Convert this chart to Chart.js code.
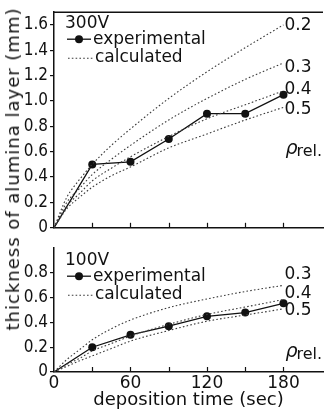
<!DOCTYPE html>
<html><head><meta charset="utf-8">
<script src="https://cdn.jsdelivr.net/npm/chart.js@4.4.1/dist/chart.umd.min.js"></script>
<style>
html,body{margin:0;padding:0;background:#fff;}
body{width:327px;height:412px;position:relative;overflow:hidden;}
#c1{position:absolute;left:0;top:0;}
#c2{position:absolute;left:0;top:236px;}
#ytitle{position:absolute;left:13px;top:169px;transform:translate(-50%,-50%) rotate(-90deg);font:18px "DejaVu Sans";letter-spacing:1px;white-space:nowrap;color:#111;line-height:18px;}
</style></head><body>
<canvas id="c1" width="327" height="240"></canvas>
<canvas id="c2" width="327" height="176"></canvas>
<div id="ytitle">thickness of alumina layer (mm)</div>
<script>
// ---------- data ----------
const expTime = [0, 30, 60, 90, 120, 150, 180];
const exp300 = [0, 0.50, 0.52, 0.70, 0.90, 0.90, 1.05];
const exp100 = [0, 0.20, 0.30, 0.37, 0.45, 0.48, 0.555];

const calcTime = [0, 10, 20, 30, 45, 60, 90, 120, 150, 180];
const calc300_02 = [0, 0.24, 0.38, 0.50, 0.65, 0.78, 1.02, 1.23, 1.42, 1.60];
const calc300_03 = [0, 0.20, 0.31, 0.42, 0.54, 0.65, 0.85, 1.02, 1.17, 1.30];
const calc300_04 = [0, 0.17, 0.27, 0.37, 0.47, 0.56, 0.72, 0.86, 0.97, 1.08];
const calc300_05 = [0, 0.15, 0.24, 0.32, 0.41, 0.48, 0.63, 0.74, 0.85, 0.95];
const calc100_03 = [0, 0.10, 0.18, 0.26, 0.35, 0.42, 0.52, 0.59, 0.65, 0.70];
const calc100_04 = [0, 0.06, 0.11, 0.17, 0.23, 0.29, 0.385, 0.465, 0.525, 0.585];
const calc100_05 = [0, 0.045, 0.09, 0.13, 0.19, 0.25, 0.335, 0.41, 0.46, 0.51];

const rhoTop = ['0.2', '0.3', '0.4', '0.5'];
const rhoBottom = ['0.3', '0.4', '0.5'];
const panelTop = '300V';
const panelBottom = '100V';
const legendExp = 'experimental';
const legendCalc = 'calculated';
const rhoLabel = 'ρ';
const rhoSub = 'rel.';

const yTopTicks = [0, 0.2, 0.4, 0.6, 0.8, 1.0, 1.2, 1.4, 1.6];
const yBottomTicks = [0, 0.2, 0.4, 0.6, 0.8];
const xLabelTicks = [0, 60, 120, 180];
const xMarkTicks = [30, 60, 90, 120, 150, 180];
const xTitle = 'deposition time (sec)';

// ---------- helpers ----------
const FONT = '"DejaVu Sans"';
const TICKFONT = '"DejaVu Sans Condensed", "Liberation Sans Narrow", "DejaVu Sans"';
const INK = '#111';
const DOT = '#3a3a3a';
const pts = (xs, ys) => xs.map((x, i) => ({x, y: ys[i]}));
const fmtY = v => v === 0 ? '0' : v.toFixed(1);

function calcSet(vals) {
  return {data: pts(calcTime, vals), borderColor: DOT, borderWidth: 1.1, borderDash: [1.6, 2.2],
    pointRadius: 0, cubicInterpolationMode: 'monotone', fill: false};
}
function expSet(vals) {
  return {data: pts(expTime, vals), borderColor: INK, borderWidth: 1.3,
    pointRadius: c => c.dataIndex === 0 ? 0 : 4, pointBackgroundColor: INK, pointBorderWidth: 0, fill: false};
}

const decor = {
  id: 'decor',
  afterDraw(chart, args, o) {
    const {ctx, chartArea: ca, scales: {x, y}} = chart;
    ctx.save();
    ctx.strokeStyle = INK; ctx.lineWidth = 1.2; ctx.setLineDash([]);
    xMarkTicks.forEach(v => {
      const px = Math.round(x.getPixelForValue(v)) + 0.5;
      ctx.beginPath(); ctx.moveTo(px, ca.bottom); ctx.lineTo(px, ca.bottom - 5); ctx.stroke();
    });
    if (o.frameTop) {
      ctx.lineWidth = 1.5;
      ctx.beginPath(); ctx.moveTo(ca.left, ca.top); ctx.lineTo(ca.right, ca.top); ctx.stroke();
    }
    ctx.fillStyle = INK; ctx.textBaseline = 'middle'; ctx.textAlign = 'left';
    ctx.font = '17px ' + FONT;
    const lx = ca.left, ly = ca.top;
    ctx.fillText(o.panel, lx + 11, ly + o.l0);
    ctx.lineWidth = 1.3;
    ctx.beginPath(); ctx.moveTo(lx + 13, ly + o.l1); ctx.lineTo(lx + 37, ly + o.l1); ctx.stroke();
    ctx.beginPath(); ctx.arc(lx + 25, ly + o.l1, 4, 0, Math.PI * 2); ctx.fill();
    ctx.fillText(legendExp, lx + 39, ly + o.l1);
    ctx.strokeStyle = DOT; ctx.lineWidth = 1.1; ctx.setLineDash([1.6, 2.2]);
    ctx.beginPath(); ctx.moveTo(lx + 14, ly + o.l2 + 1); ctx.lineTo(lx + 40, ly + o.l2 + 1); ctx.stroke();
    ctx.setLineDash([]);
    ctx.fillText(legendCalc, lx + 41, ly + o.l2);
    const xr = x.getPixelForValue(180) + 1;
    o.labels.forEach((t, i) => {
      const ds = chart.data.datasets[i];
      const last = ds.data[ds.data.length - 1].y;
      ctx.fillText(t, xr, y.getPixelForValue(last) + o.nudge[i]);
    });
    ctx.font = 'italic 19px ' + FONT;
    ctx.fillText(rhoLabel, xr + 1, ca.top + o.rhoY);
    ctx.font = '16px ' + FONT;
    ctx.fillText(rhoSub, xr + 12, ca.top + o.rhoY + 3);
    ctx.restore();
  }
};

function yScale(max, ticks) {
  return {type: 'linear', min: 0, max: max,
    afterFit: s => { s.width = 54; },
    afterBuildTicks: s => { s.ticks = ticks.map(v => ({value: v})); },
    ticks: {callback: v => fmtY(v), font: {family: TICKFONT, size: 17}, color: INK, padding: 2},
    grid: {drawOnChartArea: false, drawTicks: true, tickLength: 4, color: INK, lineWidth: 1.2},
    border: {display: true, color: INK, width: 1.5}};
}

new Chart(document.getElementById('c1'), {
  type: 'line',
  data: {datasets: [calcSet(calc300_02), calcSet(calc300_03), calcSet(calc300_04), calcSet(calc300_05), expSet(exp300)]},
  options: {
    responsive: false, animation: false, events: [],
    layout: {padding: {top: 7, left: 0, right: 0, bottom: 0}},
    plugins: {legend: {display: false}, tooltip: {enabled: false},
      decor: {panel: panelTop, frameTop: true, l0: 11.5, l1: 27, l2: 45, labels: rhoTop, nudge: [0.5, 5, -1, 2], rhoY: 137}},
    scales: {
      x: {type: 'linear', min: 0, max: 211, afterFit: s => { s.height = 4; },
        ticks: {display: false}, grid: {drawOnChartArea: false, drawTicks: false},
        border: {display: true, color: INK, width: 1.5}},
      y: yScale(1.7, yTopTicks)
    }
  },
  plugins: [decor]
});

new Chart(document.getElementById('c2'), {
  type: 'line',
  data: {datasets: [calcSet(calc100_03), calcSet(calc100_04), calcSet(calc100_05), expSet(exp100)]},
  options: {
    responsive: false, animation: false, events: [],
    layout: {padding: {top: 0, left: 0, right: 0, bottom: 0}},
    plugins: {legend: {display: false}, tooltip: {enabled: false},
      decor: {panel: panelBottom, frameTop: false, l0: 12, l1: 28, l2: 46, labels: rhoBottom, nudge: [-11, -6, 2], rhoY: 104}},
    scales: {
      x: {type: 'linear', min: 0, max: 211, afterFit: s => { s.height = 40; },
        afterBuildTicks: s => { s.ticks = xLabelTicks.map(v => ({value: v})); },
        ticks: {callback: v => String(v), font: {family: 'DejaVu Sans', size: 17}, color: INK, padding: 1, maxRotation: 0},
        grid: {drawOnChartArea: false, drawTicks: false},
        border: {display: true, color: INK, width: 1.5},
        title: {display: true, text: xTitle, font: {family: 'DejaVu Sans', size: 18}, color: INK, padding: {top: 0, bottom: 1}}},
      y: yScale(1.0, yBottomTicks)
    }
  },
  plugins: [decor]
});
</script>
</body></html>
